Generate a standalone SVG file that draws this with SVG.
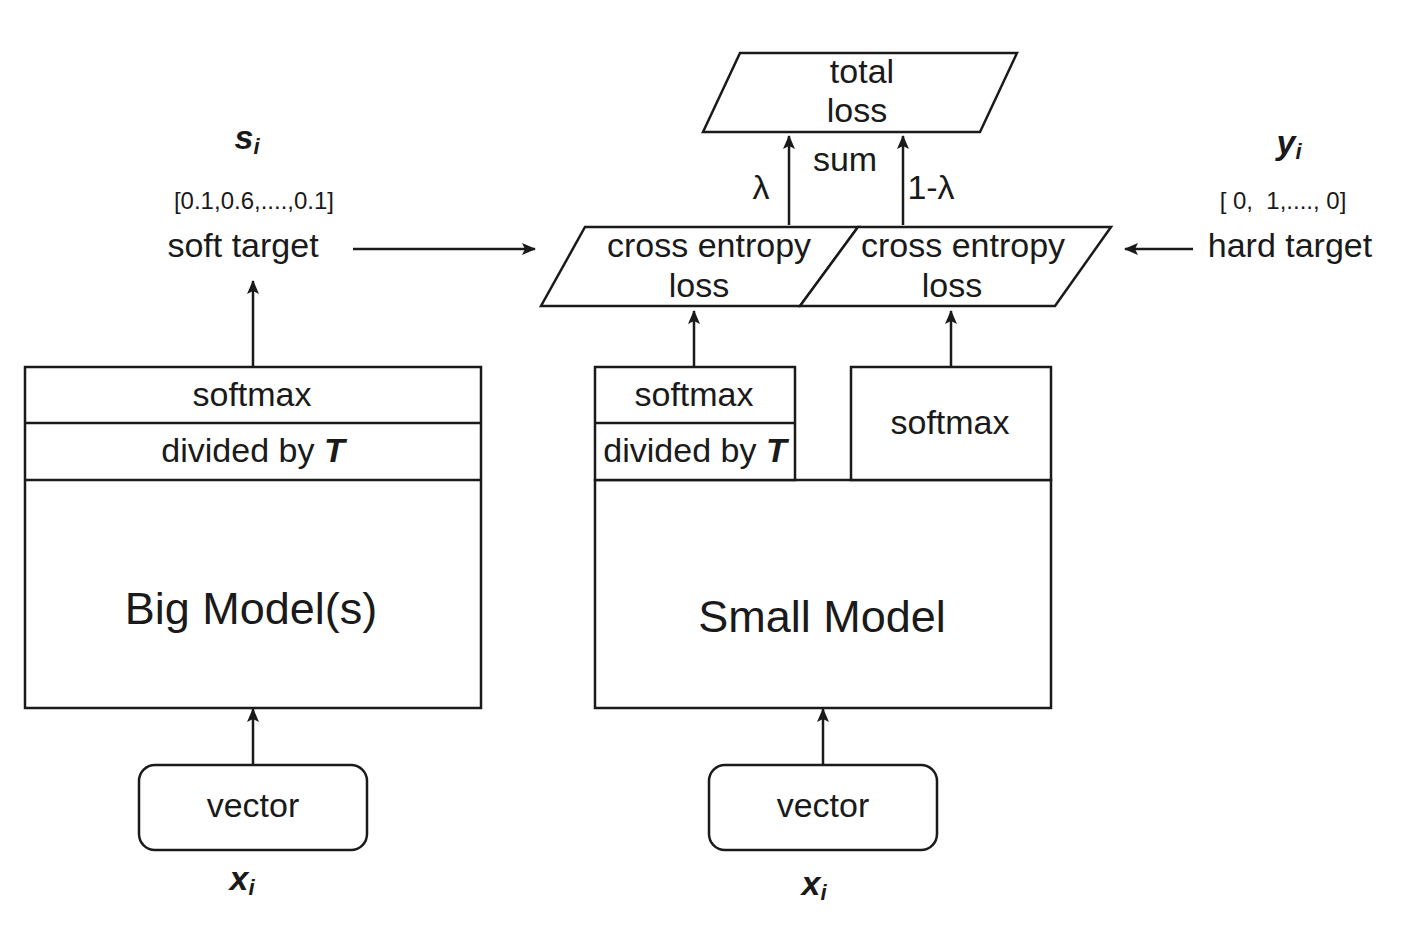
<svg xmlns="http://www.w3.org/2000/svg" width="1401" height="927" viewBox="0 0 1401 927">
<defs>
<marker id="ah" viewBox="0 0 14 12" refX="13" refY="6" markerWidth="14" markerHeight="12" markerUnits="userSpaceOnUse" orient="auto">
<path d="M0,0 L14,6 L0,12 L3,6 Z" fill="#1a1a1a"/>
</marker>
<style>
.box{fill:#fff;stroke:#1a1a1a;stroke-width:2.5}
.ln{fill:none;stroke:#1a1a1a;stroke-width:2.5}
.con{fill:none;stroke:#1a1a1a;stroke-width:2.5;marker-end:url(#ah)}
text{font-family:"Liberation Sans",Arial,sans-serif;fill:#1a1a1a;text-anchor:middle}
.t{font-size:34px}
.big{font-size:45px}
.sm{font-size:24px}
.var{font-size:34px;font-weight:bold;font-style:italic}
.sub{font-size:22px;font-weight:bold;font-style:italic}
</style>
</defs>
<rect width="1401" height="927" fill="#fff"/>

<g id="connectors">
<line class="con" x1="789" y1="225" x2="789" y2="136"/>
<line class="con" x1="903" y1="225" x2="903" y2="136"/>
<line class="con" x1="353" y1="249" x2="535" y2="249"/>
<line class="con" x1="1193" y1="249" x2="1125" y2="249"/>
<line class="con" x1="253" y1="366" x2="253" y2="281"/>
<line class="con" x1="694" y1="366" x2="694" y2="311"/>
<line class="con" x1="951" y1="366" x2="951" y2="311"/>
<line class="con" x1="253" y1="765" x2="253" y2="709"/>
<line class="con" x1="823" y1="765" x2="823" y2="709"/>
<text class="t" x="845" y="171">sum</text>
<text class="t" x="761" y="199">λ</text>
<text class="t" x="931" y="199">1-λ</text>
</g>

<g id="total-loss">
<polygon class="box" points="740,53 1017,53 980,132 703,132"/>
<text class="t" x="862" y="83">total</text>
<text class="t" x="857" y="122">loss</text>
</g>

<g id="ce-left">
<polygon class="box" points="585,227 858,227 800,306 541,306"/>
<text class="t" x="709" y="257">cross entropy</text>
<text class="t" x="699" y="297">loss</text>
</g>

<g id="ce-right">
<polygon class="box" points="858,227 1111,227 1055,306 800,306"/>
<text class="t" x="963" y="257">cross entropy</text>
<text class="t" x="952" y="297">loss</text>
</g>

<g id="soft-target">
<text class="var" x="247" y="149">s<tspan class="sub" dy="5">i</tspan></text>
<text class="sm" x="254" y="209">[0.1,0.6,....,0.1]</text>
<text class="t" x="243" y="257">soft target</text>
</g>

<g id="hard-target">
<text class="var" x="1289" y="154">y<tspan class="sub" dy="5">i</tspan></text>
<text class="sm" x="1283" y="209" xml:space="preserve">[ 0,  1,...., 0]</text>
<text class="t" x="1290" y="257">hard target</text>
</g>

<g id="big-model">
<rect class="box" x="25" y="367" width="456" height="341"/>
<line class="ln" x1="25" y1="423" x2="481" y2="423"/>
<line class="ln" x1="25" y1="480" x2="481" y2="480"/>
<text class="t" x="252" y="406">softmax</text>
<text class="t" x="253" y="462">divided by <tspan font-weight="bold" font-style="italic">T</tspan></text>
<text class="big" x="251" y="624">Big Model(s)</text>
</g>

<g id="small-model">
<rect class="box" x="595" y="480" width="456" height="228"/>
<rect class="box" x="595" y="367" width="200" height="113"/>
<line class="ln" x1="595" y1="423" x2="795" y2="423"/>
<rect class="box" x="851" y="367" width="200" height="113"/>
<text class="t" x="694" y="406">softmax</text>
<text class="t" x="695" y="462">divided by <tspan font-weight="bold" font-style="italic">T</tspan></text>
<text class="t" x="950" y="434">softmax</text>
<text class="big" x="822" y="632">Small Model</text>
</g>

<g id="vector-big">
<rect class="box" x="139" y="765" width="228" height="85" rx="16"/>
<text class="t" x="253" y="817">vector</text>
<text class="var" x="242" y="890">x<tspan class="sub" dy="5">i</tspan></text>
</g>

<g id="vector-small">
<rect class="box" x="709" y="765" width="228" height="85" rx="16"/>
<text class="t" x="823" y="817">vector</text>
<text class="var" x="814" y="895">x<tspan class="sub" dy="5">i</tspan></text>
</g>
</svg>
